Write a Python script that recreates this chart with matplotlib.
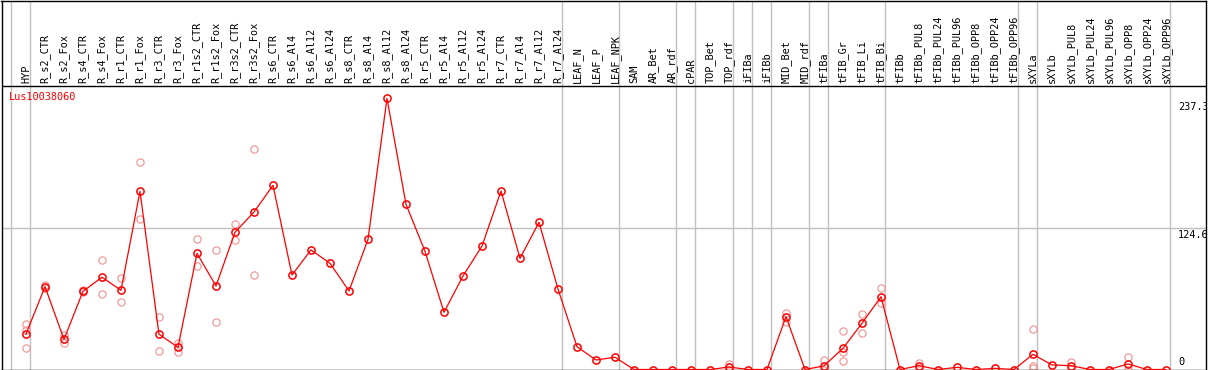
import matplotlib
matplotlib.use('Agg')
import matplotlib.pyplot as plt

gene = 'Lus10038060'

samples = ['HYP',
           'R_s2_CTR', 'R_s2_Fox', 'R_s4_CTR', 'R_s4_Fox', 'R_r1_CTR', 'R_r1_Fox',
           'R_r3_CTR', 'R_r3_Fox', 'R_r1s2_CTR', 'R_r1s2_Fox', 'R_r3s2_CTR', 'R_r3s2_Fox',
           'R_s6_CTR', 'R_s6_Al4', 'R_s6_Al12', 'R_s6_Al24', 'R_s8_CTR', 'R_s8_Al4',
           'R_s8_Al12', 'R_s8_Al24', 'R_r5_CTR', 'R_r5_Al4', 'R_r5_Al12', 'R_r5_Al24',
           'R_r7_CTR', 'R_r7_Al4', 'R_r7_Al12', 'R_r7_Al24',
           'LEAF_N', 'LEAF_P', 'LEAF_NPK', 'SAM', 'AR_Bet', 'AR_rdf', 'cPAR',
           'TOP_Bet', 'TOP_rdf', 'iFIBa', 'iFIBb', 'MID_Bet', 'MID_rdf',
           'tFIBa', 'tFIB_Gr', 'tFIB_Li', 'tFIB_Bi',
           'tFIBb', 'tFIBb_PUL8', 'tFIBb_PUL24', 'tFIBb_PUL96',
           'tFIBb_OPP8', 'tFIBb_OPP24', 'tFIBb_OPP96',
           'sXYLa', 'sXYLb', 'sXYLb_PUL8', 'sXYLb_PUL24', 'sXYLb_PUL96',
           'sXYLb_OPP8', 'sXYLb_OPP24', 'sXYLb_OPP96']

# mean expression per sample
means = [31.3,
         73.1, 26.6, 69.0, 81.4, 69.9, 157.2,
         31.1, 19.6, 102.5, 73.7, 121.1, 139.0,
         162.5, 83.4, 105.5, 93.7, 69.3, 114.9,
         239.3, 145.8, 104.3, 50.5, 82.5, 109.0,
         157.5, 98.1, 129.9, 71.0,
         20.1, 8.4, 10.8, 0.0, 0.0, 0.0, 0.0,
         0.0, 2.2, 0.0, 0.0, 46.6, 0.0,
         3.2, 18.7, 40.8, 64.2,
         0.0, 3.4, 0.0, 1.9,
         0.0, 1.0, 0.0,
         13.4, 4.0, 3.4, 0.0, 0.0,
         4.9, 0.0, 0.0]

# individual replicates (visible ones)
reps = [[40.1, 34.9, 18.7],
        [74.5, 72.0], [30.4, 23.1], [69.8, 68.2], [96.3, 66.3], [80.5, 59.3], [182.8, 132.5],
        [46.1, 16.3], [23.7, 15.7], [114.9, 91.3], [105.5, 41.6], [128.4, 114.0], [194.3, 83.4],
        [], [], [], [], [], [],
        [], [], [], [], [], [],
        [], [], [], [],
        [], [], [], [], [], [], [],
        [], [4.9, 0.0], [], [], [50.1, 42.2], [],
        [8.4, 0.0], [34.0, 15.7, 7.5], [48.7, 31.9], [71.6, 58.4],
        [], [5.4, 1.5], [], [],
        [], [], [],
        [35.7, 3.4, 1.0], [], [6.4, 0.5], [], [],
        [10.8, 0.0], [], []]

# last sample index of each group
group_ends = [-1, 0, 28, 31, 34, 35, 37, 38, 39, 41, 42, 45, 52, 53, 60]

ymax_label = 237.3
ymid_label = 124.6

fig = plt.figure(figsize=(12.09, 3.70), dpi=100)
W, H = 1209.0, 370.0
left, right, top, bottom = 1.5, 1205.5, 0.5, 369.5
ax = fig.add_axes([left / W, (H - bottom) / H, (right - left) / W, (bottom - top) / H])

px = 19.0      # pixels per sample
x0 = 26.0      # pixel of first sample
scale = 1.1332 # pixels per unit
ax.set_xlim((left - x0) / px, (right - x0) / px)
ax.set_ylim(0, (bottom - top) / scale)
ax.set_xticks([])
ax.set_yticks([])
for s in ax.spines.values():
    s.set_linewidth(1.0)
    s.set_color('black')

header_y = (bottom - 85.5) / scale
ax.axhline(header_y, color='black', lw=1.0, zorder=3)
ax.axhline(ymid_label, color='#c0c0c0', lw=1.0, zorder=1)
for g in group_ends:
    ax.axvline(g + 0.23, color='#c0c0c0', lw=1.0, zorder=1)

font = dict(family='DejaVu Sans Mono', fontsize=7.4)

for i, name in enumerate(samples):
    ax.text(i, header_y + 2.2, name, rotation=90, ha='center', va='bottom', **font)

# replicates
rx, ry = [], []
for i, r in enumerate(reps):
    for v in r:
        rx.append(i)
        ry.append(v)
ax.plot(rx, ry, ls='none', marker='o', ms=5.2, mfc='none', mec='#f09a9a', mew=0.9,
        zorder=2, clip_on=False)

xs = list(range(len(samples)))
ax.plot(xs, means, color='#ff0000', lw=0.9, marker='o', ms=5.2, mfc='none',
        mec='#ff0000', mew=1.1, zorder=4, clip_on=False)

ax.text(-0.9, 240.5, gene, color='#ff0000', ha='left', va='center', **font)

lx = (1178 - x0) / px
ax.text(lx, ymax_label - 1.5, '237.3', ha='left', va='top', clip_on=True, **font)
ax.text(lx, ymid_label - 1.5, '124.6', ha='left', va='top', clip_on=True, **font)
ax.text(lx, 2.5, '0', ha='left', va='bottom', clip_on=True, **font)

fig.savefig('out.png', dpi=100)
